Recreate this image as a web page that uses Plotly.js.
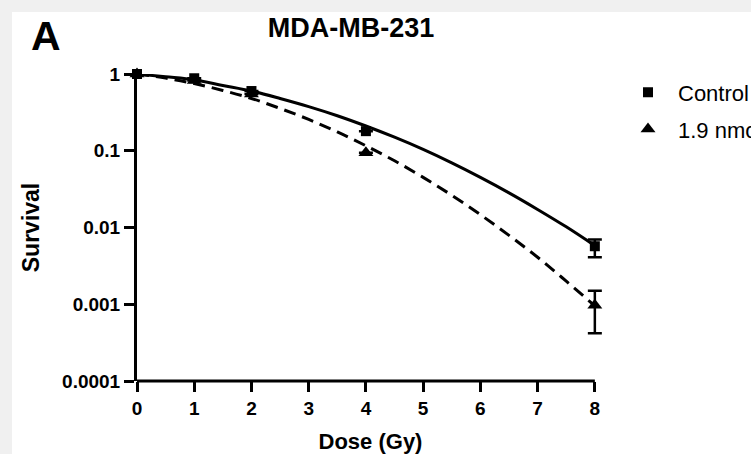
<!DOCTYPE html>
<html>
<head>
<meta charset="utf-8">
<script src="https://cdn.plot.ly/plotly-3.0.1.min.js"></script>
<style>html,body{margin:0;padding:0;background:#f0f0f0;}#chart{width:751px;height:454px;}</style>
</head>
<body>
<div id="chart"></div>
<script>
// Measured points
const doses = [0, 1, 2, 4, 8];
const controlSurv = [1, 0.88, 0.60, 0.18, 0.0057];
const controlErrPlus = [0, 0, 0, 0, 0.0013];
const controlErrMinus = [0, 0, 0, 0, 0.0016];
const treatedSurv = [1, 0.82, 0.55, 0.094, 0.00097];
const treatedErrPlus = [0, 0, 0, 0, 0.00053];
const treatedErrMinus = [0, 0, 0, 0, 0.00055];
// Fitted curves
const fitDose = [0, 0.5, 1, 1.5, 2, 2.5, 3, 3.5, 4, 4.5, 5, 5.5, 6, 6.5, 7, 7.5, 8];
const controlFit = [1, 0.92, 0.84, 0.71, 0.60, 0.48, 0.376, 0.286, 0.21, 0.150, 0.104, 0.0695, 0.045, 0.0283, 0.0172, 0.0102, 0.0058];
const treatedFit = [1, 0.884, 0.75, 0.61, 0.48, 0.356, 0.256, 0.176, 0.116, 0.074, 0.045, 0.0263, 0.0147, 0.0079, 0.0041, 0.0020, 0.00095];
// Labels
const seriesNames = ["Control", "1.9 nmol/L"];
const yTickVals = [0.0001, 0.001, 0.01, 0.1, 1];
const yTickText = ["0.0001", "0.001", "0.01", "0.1", "1"];
const xTickVals = [0, 1, 2, 3, 4, 5, 6, 7, 8];
const chartTitle = "MDA-MB-231";
const panelLabel = "A";

const F = "Liberation Sans, Arial, sans-serif";
const PW = 467, PH = 307, ML = 137, MB = 73;

const traces = [
  {x: fitDose, y: treatedFit, mode: "lines", line: {color: "#000", width: 3, dash: "12px,7px", shape: "spline"}, showlegend: false, hoverinfo: "skip", cliponaxis: false},
  {x: fitDose, y: controlFit, mode: "lines", line: {color: "#000", width: 3, shape: "spline"}, showlegend: false, hoverinfo: "skip", cliponaxis: false},
  {x: doses, y: treatedSurv, name: seriesNames[1], mode: "markers", legendgroup: "b", legendrank: 2,
   marker: {symbol: "triangle-up", size: 13, color: "#000"},
   error_y: {type: "data", symmetric: false, array: treatedErrPlus, arrayminus: treatedErrMinus, color: "#000", thickness: 2.5, width: 7},
   cliponaxis: false},
  {x: doses, y: controlSurv, name: seriesNames[0], mode: "markers", legendgroup: "a", legendrank: 1,
   marker: {symbol: "square", size: 10, color: "#000"},
   error_y: {type: "data", symmetric: false, array: controlErrPlus, arrayminus: controlErrMinus, color: "#000", thickness: 2.5, width: 7},
   cliponaxis: false}
];

const layout = {
  width: 751, height: 454,
  margin: {l: ML, r: 751 - ML - PW, t: 454 - MB - PH, b: MB, autoexpand: false},
  paper_bgcolor: "#f0f0f0",
  plot_bgcolor: "#ffffff",
  font: {family: F, color: "#000"},
  title: {text: chartTitle, font: {family: F, size: 27, weight: "bold", color: "#000"},
          xref: "paper", x: (351 - ML) / PW, xanchor: "center", yref: "container", y: 0.94, yanchor: "middle"},
  xaxis: {
    range: [0, 8.16], tickvals: xTickVals, ticks: "outside", ticklen: 10, tickwidth: 3, tickcolor: "#000",
    showline: false, showgrid: false, zeroline: false,
    tickfont: {family: F, size: 19, weight: "bold"},
    title: {text: "Dose (Gy)", font: {family: F, size: 22, weight: "bold"}, standoff: 15}
  },
  yaxis: {
    type: "log", range: [-4, 0], tickvals: yTickVals, ticktext: yTickText, ticks: "outside", ticklen: 10, tickwidth: 3, tickcolor: "#000",
    showline: true, linewidth: 3, linecolor: "#000", showgrid: false, zeroline: false,
    tickfont: {family: F, size: 19, weight: "bold"},
    title: {text: "Survival", font: {family: F, size: 23, weight: "bold"}, standoff: 17}
  },
  legend: {x: (618 - ML) / PW, xanchor: "left", y: 1.008, yanchor: "top", bgcolor: "rgba(0,0,0,0)",
           font: {family: F, size: 22, color: "#000"}, itemwidth: 50, traceorder: "grouped", tracegroupgap: 5},
  shapes: [
    {type: "rect", xref: "paper", yref: "paper", x0: (12 - ML) / PW, x1: 1.5, y0: -0.3, y1: (381 - 12) / PH, fillcolor: "#ffffff", line: {width: 0}, layer: "below"},
    {type: "line", xref: "x", yref: "paper", x0: 0, x1: 8, y0: 0, y1: 0, line: {color: "#000", width: 3}, layer: "above"}
  ],
  annotations: [{text: panelLabel, xref: "paper", yref: "paper", x: (46 - ML) / PW, y: (381 - 36) / PH, xanchor: "center", yanchor: "middle",
                 showarrow: false, font: {family: F, size: 41, weight: "bold", color: "#000"}}]
};

Plotly.newPlot("chart", traces, layout, {displayModeBar: false, staticPlot: true});
</script>
</body>
</html>
